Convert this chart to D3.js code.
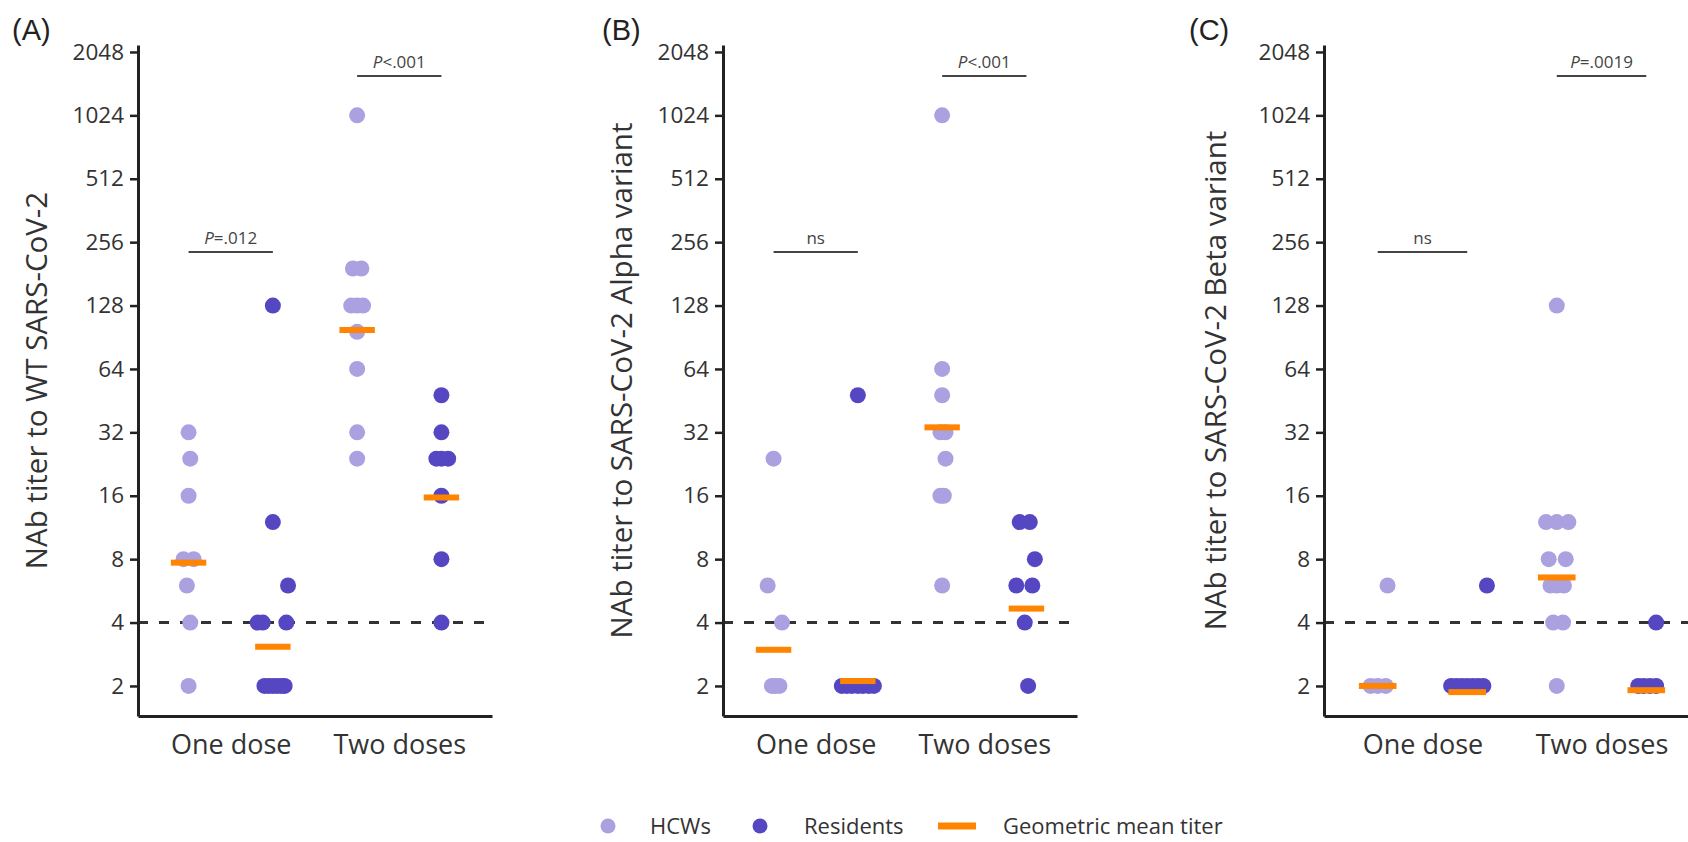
<!DOCTYPE html>
<html>
<head>
<meta charset="utf-8">
<script src="https://cdn.jsdelivr.net/npm/d3@7"></script>
<style>
  body { margin: 0; background: #fff; }
  text { font-family: "Open Sans", sans-serif; }
</style>
</head>
<body>
<script>
// categories
var doses = ["One dose", "Two doses"];
var groups = ["HCWs", "Residents"];
var yTicks = [2, 4, 8, 16, 32, 64, 128, 256, 512, 1024, 2048];
var panelTags = ["(A)", "(B)", "(C)"];
var yTitles = ["NAb titer to WT SARS-CoV-2",
               "NAb titer to SARS-CoV-2 Alpha variant",
               "NAb titer to SARS-CoV-2 Beta variant"];

// (A) WT titers, one array per group; jitter is the horizontal spread in category units
var wtHcwOne = [32, 24, 16, 8, 8, 6, 4, 2];
var wtHcwOneJit = [0, .01, 0, -.03, .03, -.01, .01, 0];
var wtResOne = [128, 12, 6, 4, 4, 4, 2, 2, 2, 2, 2, 2];
var wtResOneJit = [0, 0, .09, -.09, -.06, .08, -.05, -.025, 0, .025, .05, .07];
var wtHcwTwo = [1024, 192, 192, 128, 128, 128, 96, 64, 32, 24];
var wtHcwTwoJit = [0, -.025, .025, -.035, 0, .035, 0, 0, 0, 0];
var wtResTwo = [48, 32, 24, 24, 24, 16, 8, 4];
var wtResTwoJit = [0, 0, -.03, 0, .04, 0, 0, 0];
var wtGmt = [7.7, 3.07, 98, 15.7];

// (B) Alpha variant
var alHcwOne = [24, 6, 4, 2, 2, 2];
var alHcwOneJit = [0, -.035, .05, -.01, .01, .035];
var alResOne = [48, 2, 2, 2, 2, 2, 2, 2];
var alResOneJit = [0, -.095, -.065, -.035, 0, .03, .065, .095];
var alHcwTwo = [1024, 64, 48, 32, 32, 24, 16, 16, 6];
var alHcwTwoJit = [0, 0, 0, -.01, .02, .02, -.01, .01, 0];
var alResTwo = [12, 12, 8, 6, 6, 4, 2];
var alResTwoJit = [-.04, .02, .05, -.06, .035, -.01, .01];
var alGmt = [2.97, 2.11, 33.8, 4.66];

// (C) Beta variant
var beHcwOne = [6, 2, 2, 2];
var beHcwOneJit = [.055, -.04, 0, .045];
var beResOne = [6, 2, 2, 2, 2, 2, 2, 2];
var beResOneJit = [.11, -.09, -.06, -.03, 0, .03, .06, .09];
var beHcwTwo = [128, 12, 12, 12, 8, 8, 6, 6, 6, 4, 4, 2];
var beHcwTwoJit = [0, -.06, 0, .065, -.045, .05, -.035, 0, .04, -.02, .035, 0];
var beResTwo = [4, 2, 2, 2, 2];
var beResTwoJit = [.055, -.045, -.015, .02, .055];
var beGmt = [2.0, 1.87, 6.55, 1.91];

// significance labels per dose, and the titer level they sit at
var wtSig = ["P=.012", "P<.001"];
var alSig = ["ns", "P<.001"];
var beSig = ["ns", "P=.0019"];
var sigLevel = [230, 1574];

var detectionLimit = 4;

function pts(dose, group, vals, jit) {
  return vals.map(function(v, i) { return {dose: dose, group: group, value: v, jit: jit[i]}; });
}
function gmtRows(g) {
  return [
    {dose: doses[0], group: groups[0], value: g[0]},
    {dose: doses[0], group: groups[1], value: g[1]},
    {dose: doses[1], group: groups[0], value: g[2]},
    {dose: doses[1], group: groups[1], value: g[3]}
  ];
}

var panels = [
  {points: [].concat(pts(doses[0], groups[0], wtHcwOne, wtHcwOneJit), pts(doses[0], groups[1], wtResOne, wtResOneJit),
                     pts(doses[1], groups[0], wtHcwTwo, wtHcwTwoJit), pts(doses[1], groups[1], wtResTwo, wtResTwoJit)),
   gmt: gmtRows(wtGmt), sig: wtSig},
  {points: [].concat(pts(doses[0], groups[0], alHcwOne, alHcwOneJit), pts(doses[0], groups[1], alResOne, alResOneJit),
                     pts(doses[1], groups[0], alHcwTwo, alHcwTwoJit), pts(doses[1], groups[1], alResTwo, alResTwoJit)),
   gmt: gmtRows(alGmt), sig: alSig},
  {points: [].concat(pts(doses[0], groups[0], beHcwOne, beHcwOneJit), pts(doses[0], groups[1], beResOne, beResOneJit),
                     pts(doses[1], groups[0], beHcwTwo, beHcwTwoJit), pts(doses[1], groups[1], beResTwo, beResTwoJit)),
   gmt: gmtRows(beGmt), sig: beSig}
];

// layout of the three panels
var layout = [
  {x0: 138, w: 354, tagX: 12, titleX: 47},
  {x0: 723, w: 354, tagX: 602, titleX: 632},
  {x0: 1324, w: 376, tagX: 1189, titleX: 1226}
];

var W = 1688, H = 842;
var plotTop = 45, plotBottom = 716;
var color = d3.scaleOrdinal().domain(groups).range(["#aba0e0", "#5546c2"]);
var orange = "#ff8500";

var svg = d3.select("body").append("svg")
    .attr("width", W)
    .attr("height", H);

var y = d3.scaleLog().base(2).domain([1.44, 2210]).range([plotBottom, plotTop]);
var dodge = d3.scalePoint().domain(groups).range([-0.25, 0.25]);

panels.forEach(function(p, k) {
  var L = layout[k];
  var x = d3.scalePoint().domain(doses).range([L.x0, L.x0 + L.w]).padding(0.55);
  var step = x.step();
  var px = function(d) { return x(d.dose) + (dodge(d.group) + (d.jit || 0)) * step; };
  var g = svg.append("g");

  // detection limit
  g.append("line")
      .attr("x1", L.x0).attr("x2", L.x0 + L.w)
      .attr("y1", y(detectionLimit)).attr("y2", y(detectionLimit))
      .attr("stroke", "#333")
      .attr("stroke-width", 3)
      .attr("stroke-dasharray", "10,11");

  // points
  g.selectAll("circle.pt")
      .data(p.points)
      .enter().append("circle")
      .attr("class", "pt")
      .attr("cx", px)
      .attr("cy", function(d) { return y(d.value); })
      .attr("r", 8)
      .attr("fill", function(d) { return color(d.group); });

  // geometric mean bars
  var bw = step * 0.21;
  g.selectAll("rect.gmt")
      .data(p.gmt)
      .enter().append("rect")
      .attr("class", "gmt")
      .attr("x", function(d) { return px(d) - bw / 2; })
      .attr("y", function(d) { return y(d.value) - 3; })
      .attr("width", bw)
      .attr("height", 6)
      .attr("fill", orange);

  // significance brackets
  p.sig.forEach(function(lab, i) {
    var x1 = x(doses[i]) + dodge(groups[0]) * step;
    var x2 = x(doses[i]) + dodge(groups[1]) * step;
    var yy = y(sigLevel[i]);
    g.append("line")
        .attr("x1", x1).attr("x2", x2)
        .attr("y1", yy).attr("y2", yy)
        .attr("stroke", "#444")
        .attr("stroke-width", 2);
    var t = g.append("text")
        .attr("x", (x1 + x2) / 2)
        .attr("y", yy - 8)
        .attr("text-anchor", "middle")
        .attr("font-size", "17px")
        .attr("fill", "#444");
    if (lab.charAt(0) === "P") {
      t.append("tspan").attr("font-style", "italic").text("P");
      t.append("tspan").text(lab.slice(1));
    } else {
      t.text(lab);
    }
  });

  // y axis
  var ya = g.append("g")
      .attr("transform", "translate(" + L.x0 + ",0)")
      .call(d3.axisLeft(y).tickValues(yTicks).tickFormat(d3.format("d")).tickSize(8).tickSizeOuter(0).tickPadding(6));
  ya.select(".domain").attr("stroke", "#222").attr("stroke-width", 3);
  ya.selectAll(".tick line").attr("stroke", "#222").attr("stroke-width", 2.5);
  ya.selectAll(".tick text")
      .attr("font-family", "Open Sans")
      .attr("font-size", "22.5px")
      .attr("fill", "#333");

  // x axis
  var xa = g.append("g")
      .attr("transform", "translate(0," + plotBottom + ")")
      .call(d3.axisBottom(x).tickSize(0).tickSizeOuter(0).tickPadding(19));
  xa.select(".domain").attr("stroke", "#222").attr("stroke-width", 3);
  xa.selectAll(".tick text")
      .attr("font-family", "Open Sans")
      .attr("font-size", "27px")
      .attr("fill", "#333");

  // y title
  g.append("text")
      .attr("transform", "translate(" + L.titleX + "," + ((plotTop + plotBottom) / 2) + ") rotate(-90)")
      .attr("text-anchor", "middle")
      .attr("font-size", "29.5px")
      .attr("fill", "#333")
      .text(yTitles[k]);

  // panel tag
  g.append("text")
      .attr("x", L.tagX)
      .attr("y", 40)
      .attr("style", "font-family: 'Liberation Sans', Arial, sans-serif")
      .attr("font-size", "29px")
      .attr("fill", "#222")
      .text(panelTags[k]);
});

// legend
var leg = svg.append("g").attr("transform", "translate(0,826)");
var legItems = [
  {kind: "dot", group: groups[0], label: "HCWs", x: 608, tx: 650},
  {kind: "dot", group: groups[1], label: "Residents", x: 760, tx: 804},
  {kind: "bar", label: "Geometric mean titer", x: 957, tx: 1003}
];
legItems.forEach(function(d) {
  if (d.kind === "dot") {
    leg.append("circle").attr("cx", d.x).attr("cy", 0).attr("r", 7.5).attr("fill", color(d.group));
  } else {
    leg.append("rect").attr("x", d.x - 19).attr("y", -3.5).attr("width", 38).attr("height", 7).attr("fill", orange);
  }
  leg.append("text")
      .attr("x", d.tx)
      .attr("y", 0)
      .attr("dy", "0.35em")
      .attr("font-size", "22px")
      .attr("fill", "#333")
      .text(d.label);
});
</script>
</body>
</html>
